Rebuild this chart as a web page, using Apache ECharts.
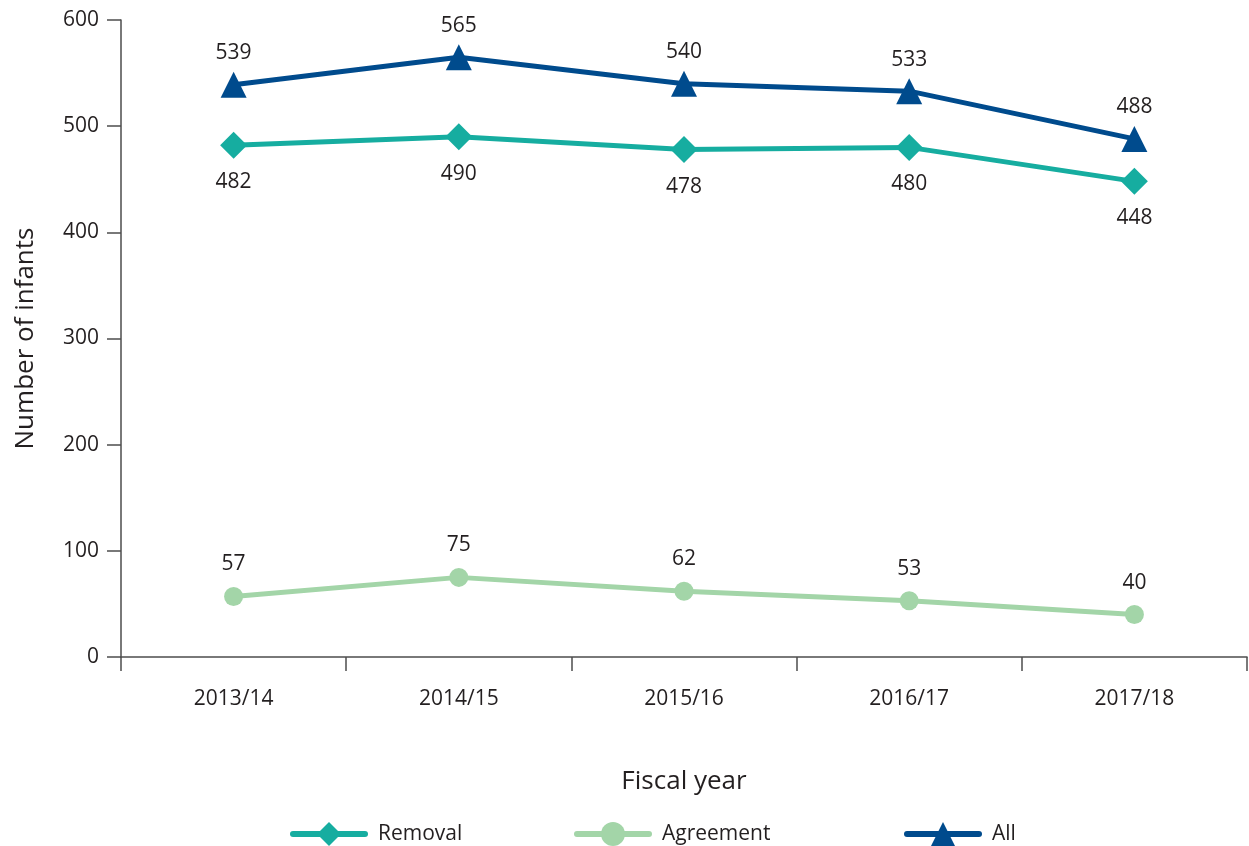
<!DOCTYPE html>
<html>
<head>
<meta charset="utf-8">
<script src="https://cdn.jsdelivr.net/npm/echarts@6/dist/echarts.min.js"></script>
<style>
html,body{margin:0;padding:0;background:#fff;}
#chart{width:1249px;height:846px;}
</style>
</head>
<body>
<div id="chart"></div>
<script>
// fiscal years and number of infants per group
var years = ['2013/14', '2014/15', '2015/16', '2016/17', '2017/18'];
var removal = [482, 490, 478, 480, 448];
var agreement = [57, 75, 62, 53, 40];
var all = [539, 565, 540, 533, 488];
var yTicks = [0, 100, 200, 300, 400, 500, 600];

var font = '"Open Sans", "Noto Sans", sans-serif';
var axisColor = '#4d4d4d';
var textColor = '#231f20';

var myChart = echarts.init(document.getElementById('chart'), null, {renderer: 'canvas'});

function legendAt(left, name){
    return {
        data: [name],
        left: left,
        top: 817,
        itemWidth: 72,
        itemHeight: 30,
        itemGap: 14,
        lineStyle: {width: 6, cap: 'round'},
        textStyle: {fontFamily: font, fontSize: 21, color: textColor, padding: [0, 0, 0, 8]}
    };
}

var option = {
    animation: false,
    backgroundColor: '#fff',
    grid: {left: 121, right: 2, top: 20, bottom: 189, containLabel: false},
    legend: [
        legendAt(285, 'Removal'),
        legendAt(569, 'Agreement'),
        legendAt(899, 'All')
    ],
    xAxis: {
        type: 'category',
        data: years,
        boundaryGap: true,
        name: 'Fiscal year',
        nameLocation: 'middle',
        nameGap: 112,
        nameTextStyle: {fontFamily: font, fontSize: 26, color: textColor},
        axisLine: {show: true, lineStyle: {color: axisColor, width: 1.5}},
        axisTick: {show: true, length: 14, alignWithLabel: false, lineStyle: {color: axisColor, width: 1.5}},
        axisLabel: {fontFamily: font, fontSize: 21, color: textColor, margin: 32},
        splitLine: {show: false}
    },
    yAxis: {
        type: 'value',
        min: yTicks[0],
        max: yTicks[yTicks.length - 1],
        interval: 100,
        name: 'Number of infants',
        nameLocation: 'middle',
        nameGap: 82,
        nameTextStyle: {fontFamily: font, fontSize: 26, color: textColor},
        axisLine: {show: true, lineStyle: {color: axisColor, width: 1.5}},
        axisTick: {show: true, length: 14, lineStyle: {color: axisColor, width: 1.5}},
        axisLabel: {fontFamily: font, fontSize: 21, color: textColor, margin: 22},
        splitLine: {show: false}
    },
    series: [
        {
            name: 'Removal',
            type: 'line',
            data: removal,
            symbol: 'diamond',
            symbolSize: 27,
            itemStyle: {color: '#16ada0'},
            lineStyle: {color: '#16ada0', width: 5},
            label: {show: true, position: 'bottom', distance: 13, fontFamily: font, fontSize: 21, color: textColor},
            z: 3
        },
        {
            name: 'Agreement',
            type: 'line',
            data: agreement,
            symbol: 'circle',
            symbolSize: 19,
            itemStyle: {color: '#a3d5a8'},
            lineStyle: {color: '#a3d5a8', width: 5},
            label: {show: true, position: 'top', distance: 12, fontFamily: font, fontSize: 21, color: textColor},
            z: 2
        },
        {
            name: 'All',
            type: 'line',
            data: all,
            symbol: 'triangle',
            symbolSize: 26,
            itemStyle: {color: '#004b8d'},
            lineStyle: {color: '#004b8d', width: 5},
            label: {show: true, position: 'top', distance: 8, fontFamily: font, fontSize: 21, color: textColor},
            z: 4
        }
    ]
};

myChart.setOption(option);
</script>
</body>
</html>
